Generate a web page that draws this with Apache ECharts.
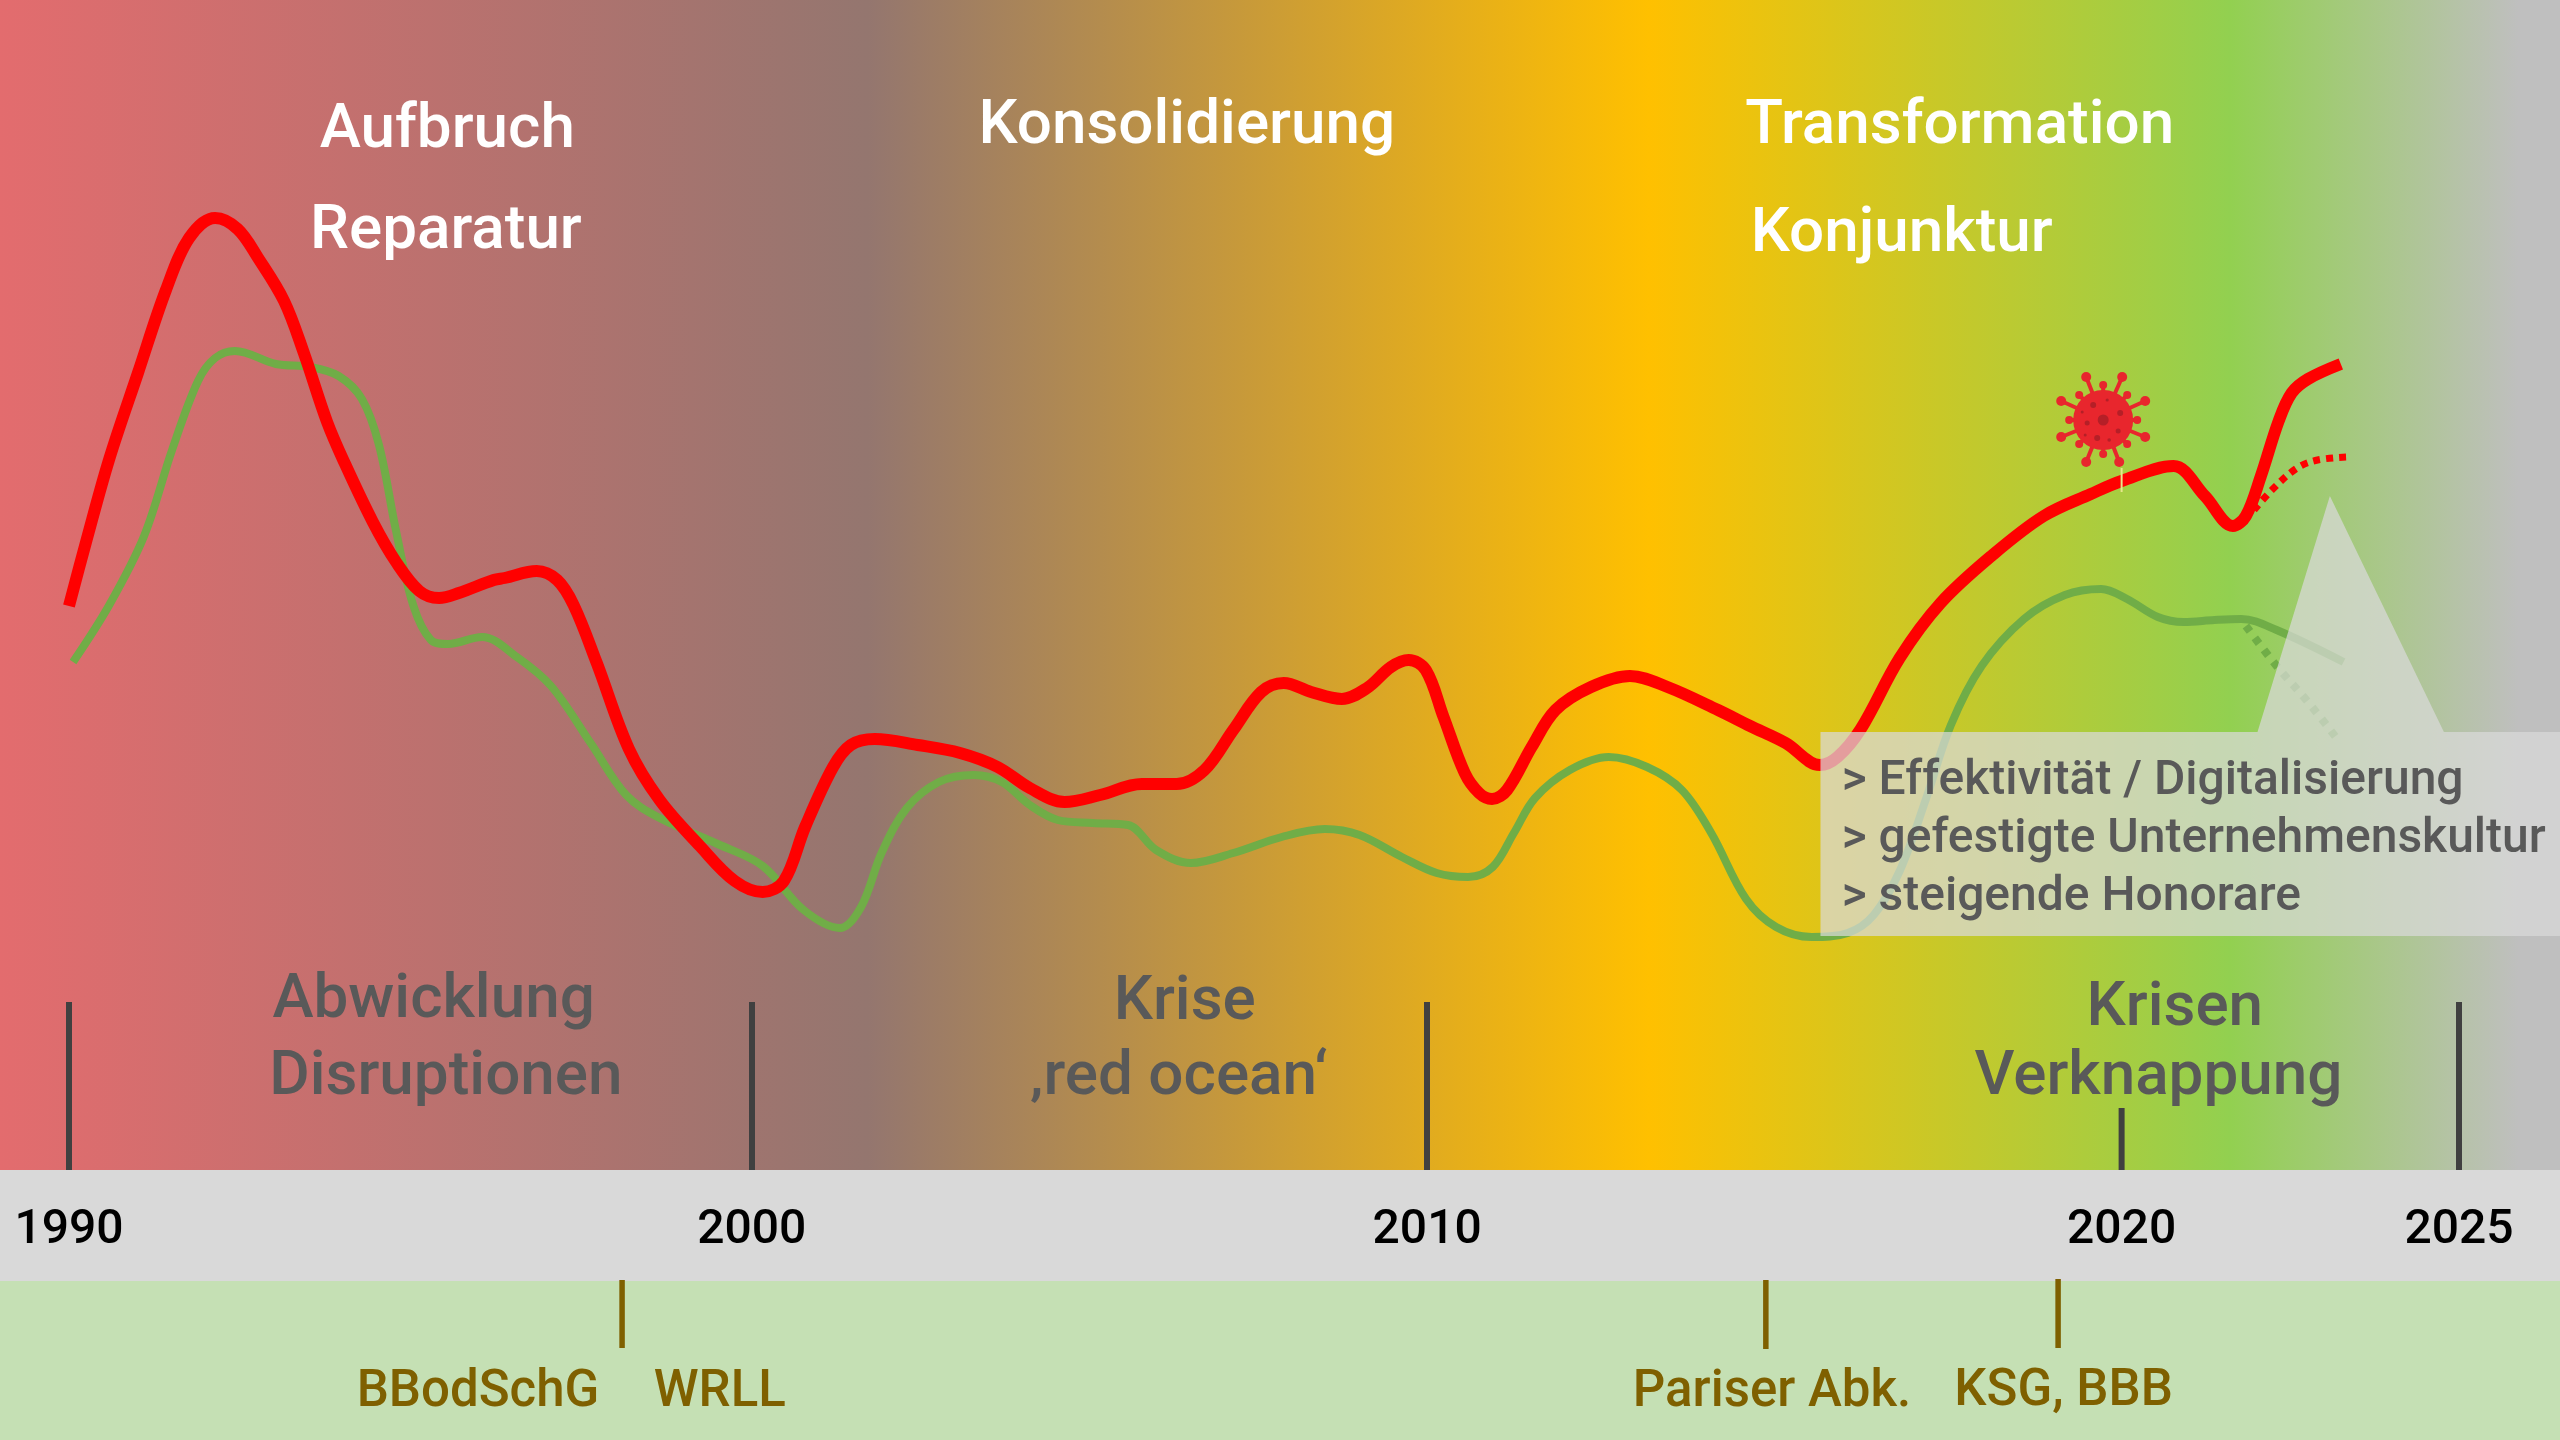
<!DOCTYPE html>
<html><head><meta charset="utf-8">
<style>html,body{margin:0;padding:0;background:#fff}#c{width:2560px;height:1440px}</style>
<script src="https://cdn.jsdelivr.net/npm/echarts@6/dist/echarts.min.js"></script>
</head><body><div id="c"></div>
<script>
// ---- data (x in years, y in an arbitrary index whose zero is the year band) ----
const redYears=[1990.00,1990.25,1990.59,1991.01,1991.42,1991.76,1992.14,1992.47,1992.77,1993.15,1993.44,1993.78,1994.03,1994.45,1994.79,1995.13,1995.42,1995.71,1996.22,1996.38,1996.85,1997.15,1997.39,1997.73,1998.20,1998.65,1999.24,1999.75,2000.16,2000.47,2000.78,2001.19,2001.45,2001.80,2002.43,2003.05,2003.60,2004.07,2004.58,2005.10,2005.71,2006.22,2006.63,2007.05,2007.46,2007.79,2008.19,2008.64,2009.01,2009.36,2009.62,2009.87,2010.13,2010.44,2010.65,2010.84,2011.06,2011.42,2011.77,2012.29,2012.86,2013.41,2014.15,2014.62,2015.14,2015.64,2015.90,2016.24,2016.81,2017.41,2018.17,2018.92,2019.61,2020.06,2020.82,2021.28,2021.69,2021.88,2022.10,2022.36,2022.55,2022.79,2023.27];
const redValues=[56.4,62.8,71.1,79.7,88.0,93.2,95.2,94.1,91.2,86.9,81.7,74.8,70.8,64.8,60.8,57.9,57.2,57.7,59.0,59.2,59.9,59.0,56.5,50.7,42.1,37.0,32.4,28.9,27.8,28.9,34.3,40.3,42.5,43.1,42.5,41.7,40.3,38.2,36.8,37.5,38.6,38.6,40.0,44.0,47.8,48.7,47.8,47.1,48.2,50.3,51.0,50.0,45.3,39.7,37.7,37.1,38.0,42.3,46.0,48.3,49.4,48.3,46.0,44.4,42.7,40.5,41.3,44.1,51.2,56.7,61.5,65.4,67.6,68.9,70.4,67.4,64.4,65.4,69.4,74.9,77.7,79.1,80.6];
const redForecastYears=[2022.00,2022.26,2022.63,2022.93,2023.36];
const redForecastValues=[66.0,68.0,70.2,71.0,71.3];
const greenYears=[1990.06,1990.59,1991.10,1991.51,1991.89,1992.14,1992.43,1993.03,1993.53,1993.95,1994.29,1994.54,1994.79,1995.04,1995.30,1995.55,1996.05,1996.56,1997.06,1997.64,1998.16,1998.65,1999.50,2000.16,2000.76,2001.29,2001.60,2001.90,2002.27,2002.74,2003.25,2003.66,2004.07,2004.48,2004.99,2005.51,2005.92,2006.43,2007.05,2007.76,2008.39,2008.90,2009.52,2010.03,2010.49,2010.85,2011.16,2011.47,2011.98,2012.55,2013.11,2013.62,2014.05,2014.56,2015.00,2015.52,2016.05,2016.43,2016.81,2017.19,2017.56,2018.01,2018.63,2019.23,2019.76,2020.14,2020.59,2020.97,2021.42,2021.81,2022.33,2023.31];
const greenValues=[50.8,56.5,63.4,72.0,78.9,81.2,81.9,80.6,80.3,79.4,77.1,72.5,63.9,56.5,53.0,52.6,53.3,51.3,48.4,42.7,37.5,35.2,32.6,30.4,26.0,24.2,26.3,31.7,36.2,38.8,39.5,38.8,36.5,35.0,34.7,34.5,32.0,30.7,31.7,33.3,34.1,33.5,31.3,29.7,29.3,30.3,33.7,37.2,40.0,41.3,40.3,38.0,33.7,27.1,24.3,23.3,23.7,25.5,29.9,37.0,44.5,50.4,55.1,57.5,58.1,57.1,55.3,54.8,55.0,55.1,54.0,50.8];
const greenForecastYears=[2021.88,2022.33,2022.79,2023.24];
const greenForecastValues=[54.4,50.4,46.8,42.9];
const yearTickLabels=[1990,2000,2009.89,2020.06,2025];
const tallTicks=[1990,2000,2009.89,2025];
const shortTick=[[2020.06,0,6.2]];
const seam=[[2020.06,70.2,67.8]];
const lawTicks=[[1998.10,-11,-17.8],[2014.85,-11,-17.9],[2019.13,-10.9,-17.8]];
const calloutYears=[2015.65,2022.05,2023.11,2024.78,2026.48,2026.48,2015.65];
const calloutValues=[43.8,43.8,67.4,43.8,43.8,23.4,23.4];
const virusAt=[2019.79,75.0];
const phaseUp=[['Aufbruch',1995.54,103.9],['Reparatur',1995.52,93.8],['Konsolidierung',2006.37,104.3],['Transformation',2017.69,104.3],['Konjunktur',2016.84,93.5]];
const phaseDown=[['Abwicklung',1995.34,16.9],['Disruptionen',1995.52,9.2],['Krise',2006.34,16.7],['‚red ocean‘',2006.25,9.2],['Krisen',2020.84,16.1],['Verknappung',2020.60,9.2]];
const laws=[['BBodSchG',1995.99,-22.3],['WRLL',1999.53,-22.3],['Pariser Abk.',2014.94,-22.3],['KSG, BBB',2019.21,-22.2]];
const bullets=[['> Effektivität / Digitalisierung',2015.96,38.8],['> gefestigte Unternehmenskultur',2015.96,33.0],['> steigende Honorare',2015.96,27.2]];

// ---- chart ----
const xMin=1988.99,xMax=2026.48,yMin=-27,yMax=117;
const zip=(a,b)=>a.map((v,i)=>[v,b[i]]);
const bgGradient=new echarts.graphic.LinearGradient(0,0,1,0,[
 {offset:0,color:'#E36C6E'},{offset:.339,color:'#94766F'},{offset:.644,color:'#FFC000'},
 {offset:.871,color:'#92D050'},{offset:.984,color:'#BFBFBF'},{offset:1,color:'#BFBFBF'}]);
const bands=[[117,0,'gradient'],[0,-11.1,'#D9D9D9'],[-11.1,-27,'#C5E0B4']];
const lineSer=(name,data,color,width,dash,z)=>({type:'line',name,data,symbol:'none',smooth:.35,silent:true,clip:false,z:z||3,
  lineStyle:{color,width,type:dash||'solid',cap:'butt',join:'round'}});
const textSer=(items,font,size,color,align,weight)=>({type:'scatter',symbolSize:0,silent:true,z:6,itemStyle:{opacity:1},
  data:items.map(d=>({name:d[0],value:[d[1],d[2]]})),
  label:{show:true,opacity:1,position:'inside',formatter:'{b}',fontFamily:font,fontSize:size,color,align:align||'center',verticalAlign:'middle',fontWeight:weight||'normal'}});
const segSer=(data,color,width,z)=>({type:'custom',silent:true,z,clip:false,data,
  renderItem:(p,api)=>{const a=api.coord([api.value(0),api.value(1)]),b=api.coord([api.value(0),api.value(2)]);
    return {type:'line',shape:{x1:a[0],y1:a[1],x2:b[0],y2:b[1]},style:{stroke:color,lineWidth:width}};},
  encode:{x:0,y:[1,2]}});

const virus=(p,api)=>{
  const c=api.coord([api.value(0),api.value(1)]),red='#E8262D',dark='#B51F27',kids=[];
  const spike=(dx,dy,r,w)=>{kids.push({type:'line',shape:{x1:0,y1:0,x2:dx,y2:dy},style:{stroke:red,lineWidth:w}});
    kids.push({type:'circle',shape:{cx:dx,cy:dy,r},style:{fill:red}});};
  [[-17,-43],[19,-43],[42,-19],[42,17],[16,42],[-17,42],[-42,17],[-42,-19]].forEach(s=>spike(s[0],s[1],5,4));
  [[0,-35],[24,-25],[34,0],[24,24],[0,34],[-24,24],[-34,0],[-24,-25]].forEach(s=>spike(s[0],s[1],4,4));
  kids.push({type:'circle',shape:{cx:0,cy:0,r:30},style:{fill:red}});
  [[0,0,5.5],[-10,-15,3],[-16,3,2.5],[17,-7,3],[15,11,2.5],[-6,18,3],[6,20,1.8],[4,-20,1.6],[-18,15,1.5],[-21,-8,1.5]]
    .forEach(d=>kids.push({type:'circle',shape:{cx:d[0],cy:d[1],r:d[2]},style:{fill:dark}}));
  return {type:'group',x:c[0],y:c[1],children:kids};
};

const chart=echarts.init(document.getElementById('c'),null,{renderer:'canvas'});
chart.setOption({
 animation:false,
 grid:{left:0,right:0,top:0,bottom:0,outerBoundsMode:'none'},
 xAxis:{type:'value',min:xMin,max:xMax,splitLine:{show:false},z:1,
   axisLine:{show:true,onZero:true,lineStyle:{color:'rgba(0,0,0,0)',width:0}},
   axisTick:{show:true,inside:true,length:168,customValues:tallTicks,lineStyle:{color:'#404040',width:6}},
   axisLabel:{show:true,customValues:yearTickLabels,inside:true,margin:185,color:'#000',fontFamily:'Roboto',fontSize:48,fontWeight:500,
     formatter:v=>String(Math.round(v))}},
 yAxis:{type:'value',min:yMin,max:yMax,show:false,splitLine:{show:false}},
 series:[
  {type:'custom',silent:true,z:0,clip:false,data:bands,encode:{y:[0,1]},
   renderItem:(p,api)=>{const a=api.coord([xMin,api.value(0)]),b=api.coord([xMax,api.value(1)]);
     const col=bands[p.dataIndex][2];
     return {type:'rect',shape:{x:a[0],y:a[1],width:b[0]-a[0],height:b[1]-a[1]},style:{fill:col==='gradient'?bgGradient:col}};}},
  segSer(shortTick,'#404040',6,2),
  segSer(lawTicks,'#7F6000',5.5,2),
  lineSer('Grün Prognose',zip(greenForecastYears,greenForecastValues),'#70AD47',8,[7,8]),
  lineSer('Grün',zip(greenYears,greenValues),'#70AD47',8),
  lineSer('Rot',zip(redYears,redValues),'#FF0000',12),
  lineSer('Rot Prognose',zip(redForecastYears,redForecastValues),'#FF0000',7,[7,6]),
  segSer(seam,'#E6E68C',2,4),
  {type:'custom',silent:true,z:5,clip:false,data:[[0,0]],
   renderItem:(p,api)=>({type:'polygon',shape:{points:calloutYears.map((x,i)=>api.coord([x,calloutValues[i]]))},style:{fill:'rgba(217,217,217,0.72)'}})},
  {type:'custom',silent:true,z:4,clip:false,data:[virusAt],encode:{x:0,y:1},renderItem:virus},
  textSer(phaseUp,'Roboto',62,'#FFFFFF','center',500),
  textSer(phaseDown,'Roboto',62,'#595959','center',500),
  textSer(laws,'Roboto',51,'#7F6000','center',500),
  textSer(bullets,'Roboto',48,'#595959','left',500)
 ]
});
</script></body></html>
